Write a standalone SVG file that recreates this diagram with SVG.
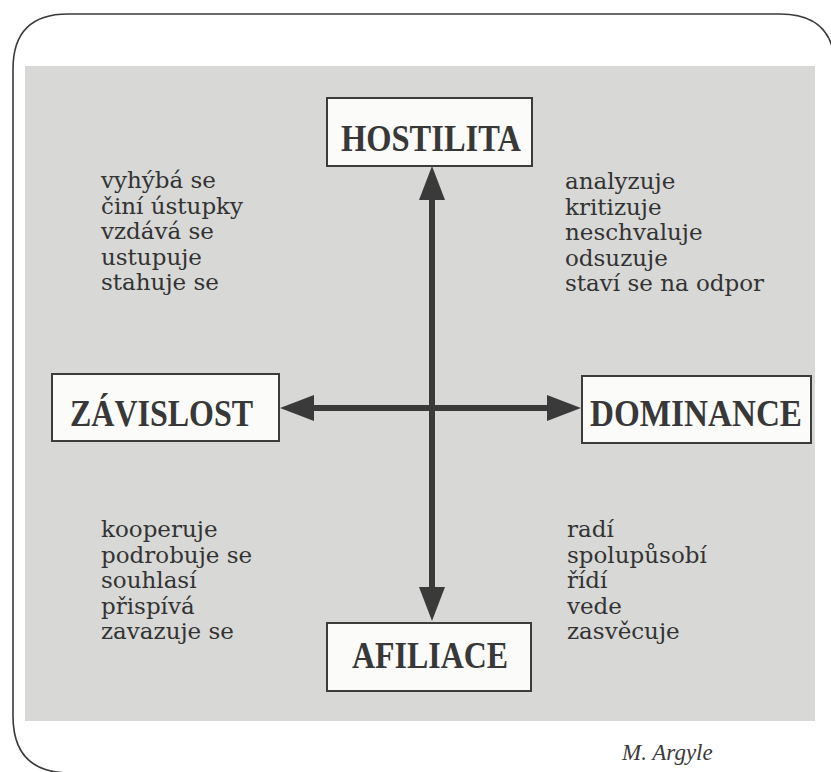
<svg xmlns="http://www.w3.org/2000/svg" width="831" height="772" viewBox="0 0 831 772">
<style>
.box{fill:#fbfbfa;stroke:#3c3c3c;stroke-width:2}
.lbl{font-family:"Liberation Serif",serif;font-weight:bold;font-size:37px;fill:#383838;text-anchor:start}
.lst{font-family:"DejaVu Serif",serif;font-size:23px;fill:#333333}
.ax{stroke:#3a3a3a;stroke-width:6;fill:none}
.hd{fill:#3a3a3a}
</style>
<rect x="0" y="0" width="831" height="772" fill="#ffffff"/>
<path d="M13,716 L13,69 Q13,14 68,14 L780,14 Q835,14 835,69 L835,775 M13,716 Q13,773 70,773 L835,773" fill="none" stroke="#3a3a3a" stroke-width="1.6"/>
<rect x="25" y="66" width="790" height="655" fill="#d8d8d6"/>
<g id="connectors">
<line class="ax" x1="432" y1="192" x2="432" y2="596"/>
<line class="ax" x1="306" y1="408" x2="556" y2="408"/>
<polygon class="hd" points="432,166 445,200 419,200"/>
<polygon class="hd" points="432,621 445,587 419,587"/>
<polygon class="hd" points="280,408 314,395 314,421"/>
<polygon class="hd" points="581,408 547,395 547,421"/>
</g>
<g id="hostilita">
<rect class="box" x="327" y="98" width="205" height="68"/>
<text class="lbl" x="341" y="151" textLength="180" lengthAdjust="spacingAndGlyphs">HOSTILITA</text>
</g>
<g id="zavislost">
<rect class="box" x="52" y="374" width="227" height="67"/>
<text class="lbl" x="70" y="426" textLength="183" lengthAdjust="spacingAndGlyphs">ZÁVISLOST</text>
</g>
<g id="dominance">
<rect class="box" x="582" y="376" width="229" height="67"/>
<text class="lbl" x="590" y="426" textLength="212" lengthAdjust="spacingAndGlyphs">DOMINANCE</text>
</g>
<g id="afiliace">
<rect class="box" x="327" y="623" width="204" height="68"/>
<text class="lbl" x="352" y="668" textLength="156" lengthAdjust="spacingAndGlyphs">AFILIACE</text>
</g>
<g id="text-top-left" class="lst">
<text x="101" y="188">vyhýbá se</text>
<text x="101" y="213.5">činí ústupky</text>
<text x="101" y="239">vzdává se</text>
<text x="101" y="264.5">ustupuje</text>
<text x="101" y="290">stahuje se</text>
</g>
<g id="text-top-right" class="lst">
<text x="565" y="189">analyzuje</text>
<text x="565" y="214.5">kritizuje</text>
<text x="565" y="240">neschvaluje</text>
<text x="565" y="265.5">odsuzuje</text>
<text x="565" y="291">staví se na odpor</text>
</g>
<g id="text-bottom-left" class="lst">
<text x="101" y="537">kooperuje</text>
<text x="101" y="562.5">podrobuje se</text>
<text x="101" y="588">souhlasí</text>
<text x="101" y="613.5">přispívá</text>
<text x="101" y="639">zavazuje se</text>
</g>
<g id="text-bottom-right" class="lst">
<text x="567" y="537">radí</text>
<text x="567" y="562.5">spolupůsobí</text>
<text x="567" y="588">řídí</text>
<text x="567" y="613.5">vede</text>
<text x="567" y="639">zasvěcuje</text>
</g>
<text x="622" y="760" font-family="Liberation Serif, serif" font-style="italic" font-size="23" fill="#3a3a3a">M. Argyle</text>
</svg>
